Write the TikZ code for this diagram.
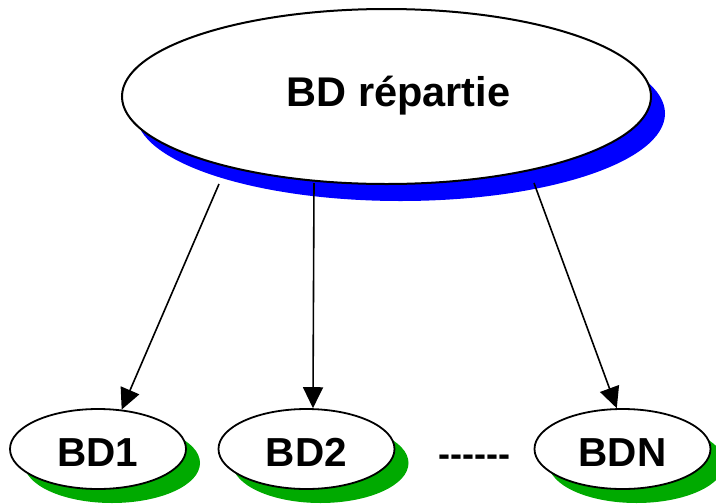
\documentclass[tikz,border=0pt]{standalone}
\usepackage{fontspec}
\setmainfont{Liberation Sans}
\usetikzlibrary{shapes.geometric,shadows,arrows.meta}
\definecolor{shblue}{HTML}{0000FF}
\definecolor{shgreen}{HTML}{00AA00}
\begin{document}
\begin{tikzpicture}[x=1pt,y=-1pt,
  bigell/.style={ellipse,draw=black,line width=2pt,fill=white,inner sep=0pt,
    minimum width=529pt,minimum height=175pt,
    drop shadow={shadow xshift=14pt,shadow yshift=-17pt,fill=shblue,opacity=1}},
  smallell/.style={ellipse,draw=black,line width=1.8pt,fill=white,inner sep=0pt,
    minimum width=176pt,minimum height=80pt,text height=34pt,text depth=0pt,
    font=\fontsize{40.5pt}{42pt}\selectfont\bfseries,
    drop shadow={shadow xshift=14pt,shadow yshift=-14pt,fill=shgreen,opacity=1}},
  arr/.style={line width=1.6pt,-{Triangle[length=21pt,width=20pt]}},
  bigtxt/.style={font=\fontsize{41.5pt}{44pt}\selectfont\bfseries,inner sep=0pt,anchor=base}
  ]
\useasboundingbox (0,0) rectangle (716,504);
\node[bigell] (main) at (386.5,96.5) {};
\node[bigtxt] (maintxt) at (398.5,106) {BD répartie};
\node[smallell] (bd1) at (98,449) {BD1};
\node[smallell] (bd2) at (306.5,449) {BD2};
\node[smallell] (bdn) at (622.5,449) {BDN};
\node[font=\fontsize{36pt}{38pt}\selectfont\bfseries,inner sep=0pt,anchor=base] (dots) at (474.5,466)
  {\mbox{-}\mbox{-}\mbox{-}\mbox{-}\mbox{-}\mbox{-}};
\coordinate (s1) at (219,184);
\coordinate (s2) at (314,183);
\coordinate (s3) at (534,183);
\draw[arr] (s1) -- (bd1.59);
\draw[arr] (s2) -- (bd2.81);
\draw[arr] (s3) -- (bdn.98);
\end{tikzpicture}
\end{document}
